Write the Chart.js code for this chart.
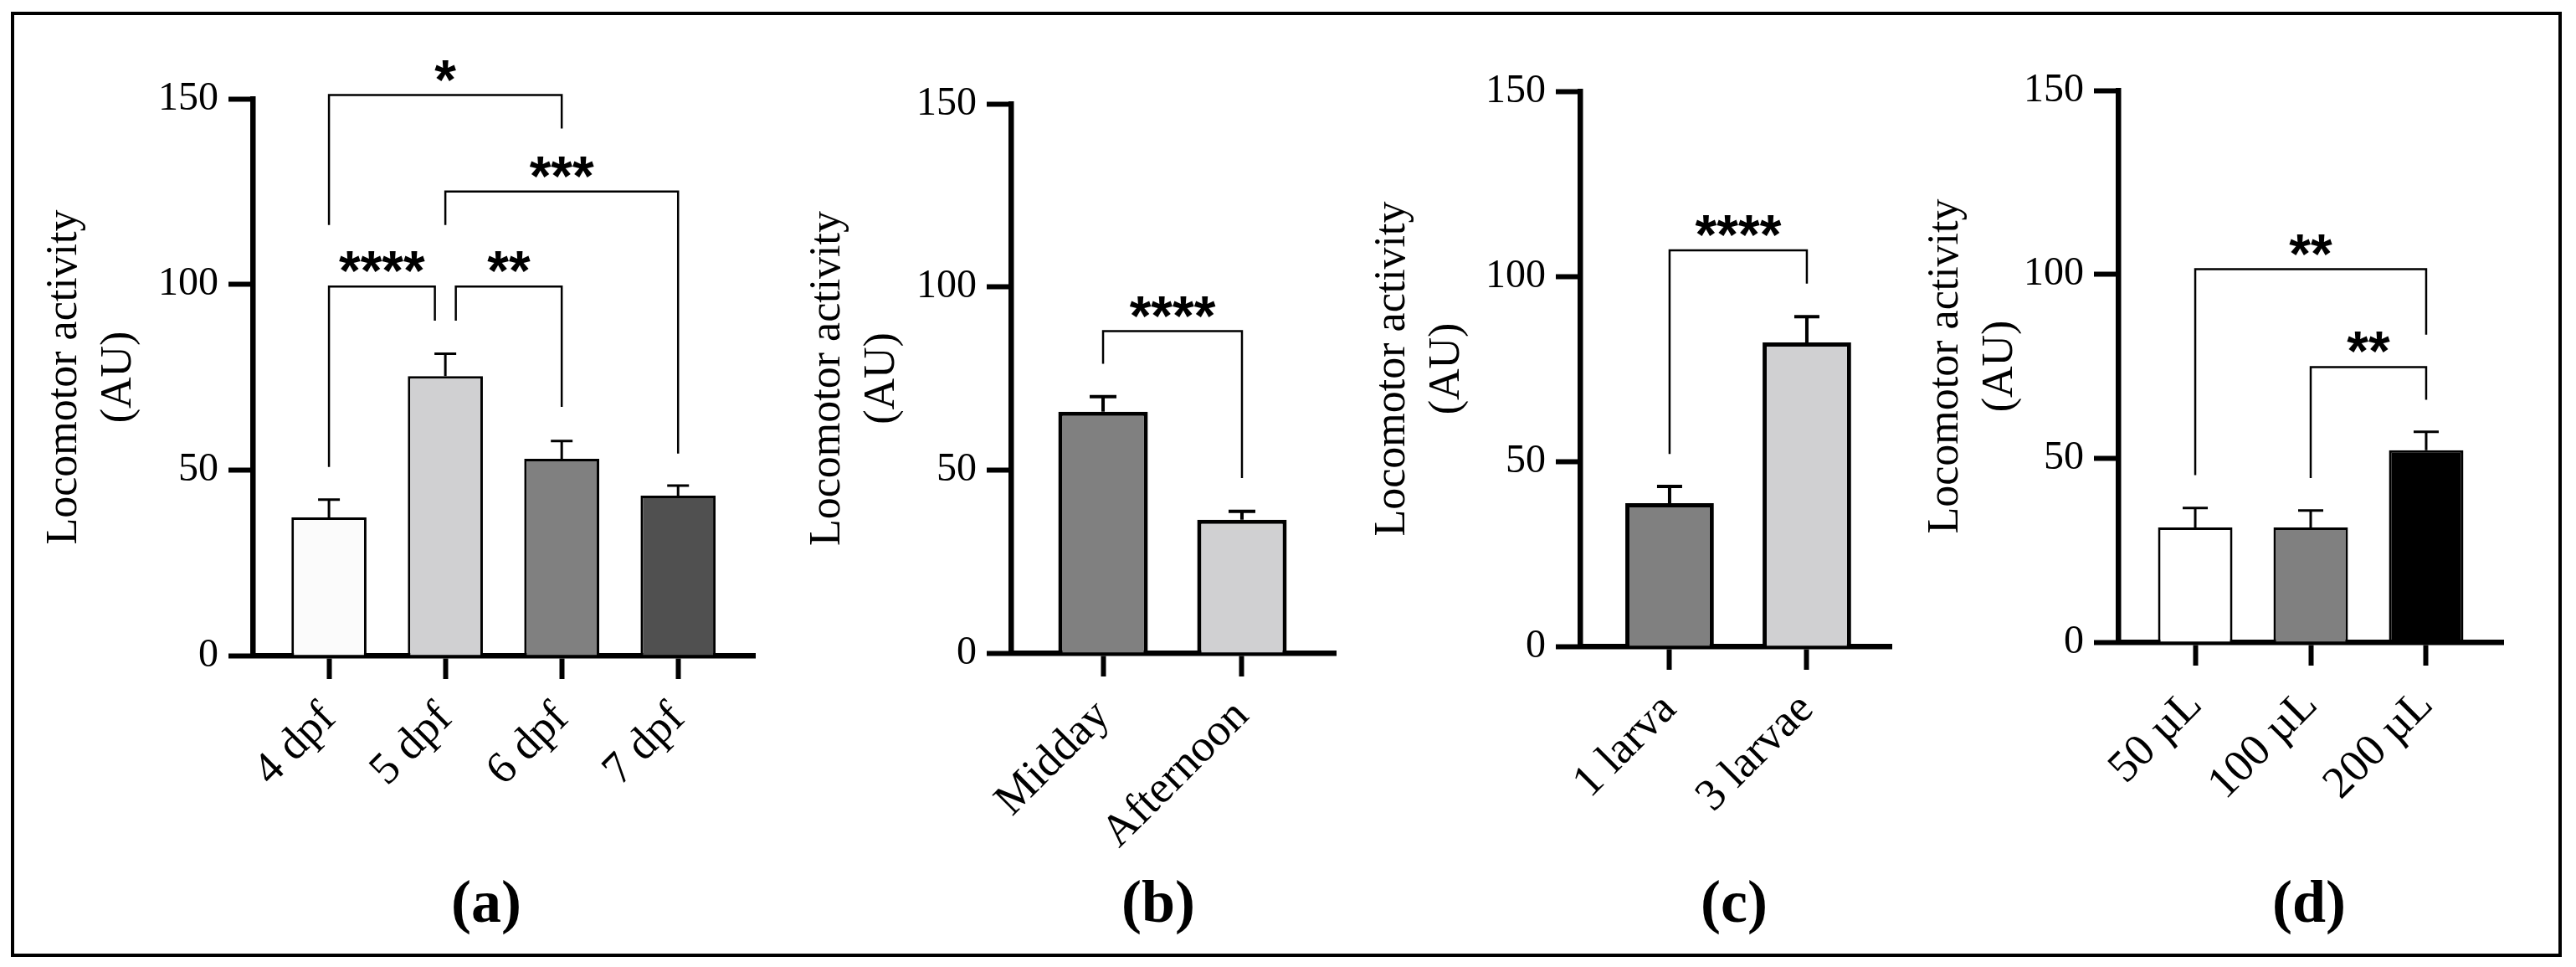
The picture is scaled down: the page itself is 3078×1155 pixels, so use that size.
<!DOCTYPE html>
<html>
<head>
<meta charset="utf-8">
<script src="https://cdn.jsdelivr.net/npm/chart.js@4.4.0/dist/chart.umd.min.js"></script>
<style>
    html, body { margin: 0; padding: 0; background: #fff; }
    body { width: 3078px; height: 1155px; position: relative; overflow: hidden; }
    #frame { position: absolute; left: 13px; top: 14px; width: 3048px; height: 1129px;
             border: 4px solid #000; box-sizing: border-box; }
    canvas { position: absolute; top: 20px; }
    .tag { position: absolute; top: 1036px; height: 80px; line-height: 80px;
           font: bold 72px "Liberation Serif", serif; transform: translateX(-50%); }
</style>
</head>
<body>
<div id="frame"></div>
<canvas id="chartA"></canvas>
<canvas id="chartB"></canvas>
<canvas id="chartC"></canvas>
<canvas id="chartD"></canvas>
<div class="tag" style="left:581px">(a)</div>
<div class="tag" style="left:1384px">(b)</div>
<div class="tag" style="left:2072px">(c)</div>
<div class="tag" style="left:2759px">(d)</div>

<script>
//////////////////////////////////////
//              Data                //
//////////////////////////////////////

const yTitle = ['Locomotor activity', '(AU)'];
const yMax = 150;
const yStep = 50;

// (a) age of larvae
const ageLabels = ['4 dpf', '5 dpf', '6 dpf', '7 dpf'];
const ageMeans = [37.2, 75.3, 53.0, 43.1];
const ageErrors = [4.8, 6.0, 4.8, 2.7];
const ageColors = ['#fbfbfb', '#d0d0d2', '#808080', '#505050'];
const ageBrackets = [
    { x1: 0, x2: 2, y: 151, y1: 116, y2: 142, text: '*' },
    { x1: 1, x2: 3, y: 125, y1: 116, y2: 54.4, text: '***' },
    { x1: 0, x2: 0.91, y: 99.4, y1: 50.8, y2: 90.2, text: '****' },
    { x1: 1.09, x2: 2, y: 99.4, y1: 90.2, y2: 67, text: '**' }
];

// (b) time of day
const timeLabels = ['Midday', 'Afternoon'];
const timeMeans = [65.9, 36.4];
const timeErrors = [4.1, 2.3];
const timeColors = ['#808080', '#d0d0d2'];
const timeBrackets = [
    { x1: 0, x2: 1, y: 87.9, y1: 79, y2: 47.8, text: '****' }
];

// (c) larvae per well
const groupLabels = ['1 larva', '3 larvae'];
const groupMeans = [38.7, 82.1];
const groupErrors = [4.5, 7.0];
const groupColors = ['#808080', '#d0d0d2'];
const groupBrackets = [
    { x1: 0, x2: 1, y: 107, y1: 52, y2: 98, text: '****' }
];

// (d) water volume
const volumeLabels = ['50 µL', '100 µL', '200 µL'];
const volumeMeans = [31.2, 31.2, 52.2];
const volumeErrors = [5.3, 4.6, 5.0];
const volumeColors = ['#ffffff', '#808080', '#000000'];
const volumeBrackets = [
    { x1: 0, x2: 2, y: 101.4, y1: 45.4, y2: 83.6, text: '**' },
    { x1: 1, x2: 2, y: 74.8, y1: 44.6, y2: 65.9, text: '**' }
];


//////////////////////////////////////
//             Plugins              //
//////////////////////////////////////

// one sided error bars (mean + SEM) on top of every bar
const errorBarPlugin = {
    id: 'errBars',
    afterDatasetsDraw(chart, args, opts) {
        const ctx = chart.ctx;
        const xs = chart.scales.x, ys = chart.scales.y;
        ctx.save();
        ctx.strokeStyle = '#000';
        ctx.lineWidth = opts.lineWidth;
        opts.means.forEach((m, i) => {
            const px = xs.getPixelForValue(i);
            const top = ys.getPixelForValue(m);
            const end = ys.getPixelForValue(m + opts.errors[i]);
            ctx.beginPath();
            ctx.moveTo(px, top);
            ctx.lineTo(px, end);
            ctx.moveTo(px - opts.cap, end);
            ctx.lineTo(px + opts.cap, end);
            ctx.stroke();
        });
        ctx.restore();
    }
};

// significance brackets with stars
const bracketPlugin = {
    id: 'brackets',
    afterDatasetsDraw(chart, args, opts) {
        const ctx = chart.ctx;
        const xs = chart.scales.x, ys = chart.scales.y;
        ctx.save();
        ctx.strokeStyle = '#000';
        ctx.fillStyle = '#000';
        ctx.lineWidth = 2.5;
        ctx.font = 'bold 66px "Liberation Sans", Arial, sans-serif';
        ctx.textAlign = 'center';
        ctx.textBaseline = 'alphabetic';
        opts.items.forEach(b => {
            const xa = xs.getPixelForValue(b.x1), xb = xs.getPixelForValue(b.x2);
            const yt = ys.getPixelForValue(b.y);
            ctx.beginPath();
            ctx.moveTo(xa, ys.getPixelForValue(b.y1));
            ctx.lineTo(xa, yt);
            ctx.lineTo(xb, yt);
            ctx.lineTo(xb, ys.getPixelForValue(b.y2));
            ctx.stroke();
            ctx.fillText(b.text, (xa + xb) / 2, yt + 4);
        });
        ctx.restore();
    }
};


//////////////////////////////////////
//              Panels              //
//////////////////////////////////////

function makePanel(p) {
    const canvas = document.getElementById(p.id);
    canvas.width = p.canvasRight - p.canvasLeft;
    canvas.height = 1110;
    canvas.style.left = p.canvasLeft + 'px';

    const titleLine = 65;
    const xAxisHeight = 1110 - (p.area.bottom - 20);

    return new Chart(canvas, {
        type: 'bar',
        data: {
            datasets: [{
                data: p.means.map((v, i) => ({ x: i, y: v })),
                backgroundColor: p.colors,
                borderColor: '#000',
                borderWidth: p.barBorder,
                categoryPercentage: 1,
                barPercentage: 0.645
            }]
        },
        options: {
            responsive: false,
            animation: false,
            devicePixelRatio: 1,
            layout: {
                padding: { left: 0, top: p.area.top - 20, bottom: 0, right: p.canvasRight - p.area.right }
            },
            plugins: {
                legend: { display: false },
                tooltip: { enabled: false },
                errBars: { means: p.means, errors: p.errors, lineWidth: p.errWidth, cap: p.cap },
                brackets: { items: p.brackets }
            },
            scales: {
                x: {
                    type: 'linear',
                    offset: false,
                    min: -p.xPad[0],
                    max: p.labels.length - 1 + p.xPad[1],
                    afterBuildTicks: s => { s.ticks = p.labels.map((_, i) => ({ value: i })); },
                    afterFit: s => { s.height = xAxisHeight; },
                    grid: { display: true, offset: false, drawOnChartArea: false, drawTicks: true,
                            tickLength: 28, tickWidth: 6, tickColor: '#000' },
                    border: { display: true, color: '#000', width: 6.5 },
                    ticks: {
                        autoSkip: false,
                        maxRotation: 45,
                        minRotation: 45,
                        padding: 16,
                        color: '#000',
                        font: { family: '"Liberation Serif", serif', size: 54 },
                        callback: v => p.labels[v]
                    }
                },
                y: {
                    min: 0,
                    max: yMax,
                    afterFit: s => { s.width = p.area.left - p.canvasLeft; },
                    grid: { display: true, drawOnChartArea: false, drawTicks: true,
                            tickLength: 29, tickWidth: 6, tickColor: '#000' },
                    border: { display: true, color: '#000', width: 6.5 },
                    ticks: {
                        stepSize: yStep,
                        padding: 12,
                        color: '#000',
                        font: { family: '"Liberation Serif", serif', size: 48 }
                    },
                    title: {
                        display: true,
                        text: yTitle,
                        color: '#000',
                        font: { family: '"Liberation Serif", serif', size: 52, lineHeight: 1.25 },
                        padding: { top: p.titleX - p.canvasLeft - titleLine / 2, bottom: 0 }
                    }
                }
            }
        },
        plugins: [errorBarPlugin, bracketPlugin]
    });
}

makePanel({
    id: 'chartA', canvasLeft: 20, canvasRight: 940,
    area: { left: 302, top: 118, bottom: 783, right: 902 }, xPad: [0.655, 0.66],
    titleX: 77, labels: ageLabels, means: ageMeans, errors: ageErrors, colors: ageColors,
    brackets: ageBrackets, barBorder: 3, errWidth: 3, cap: 13
});

makePanel({
    id: 'chartB', canvasLeft: 940, canvasRight: 1620,
    area: { left: 1208, top: 124, bottom: 780, right: 1596 }, xPad: [0.663, 0.675],
    titleX: 989, labels: timeLabels, means: timeMeans, errors: timeErrors, colors: timeColors,
    brackets: timeBrackets, barBorder: 5, errWidth: 4, cap: 16
});

makePanel({
    id: 'chartC', canvasLeft: 1620, canvasRight: 2290,
    area: { left: 1888, top: 109, bottom: 772, right: 2260 }, xPad: [0.652, 0.616],
    titleX: 1664, labels: groupLabels, means: groupMeans, errors: groupErrors, colors: groupColors,
    brackets: groupBrackets, barBorder: 5, errWidth: 4, cap: 15
});

makePanel({
    id: 'chartD', canvasLeft: 2290, canvasRight: 3050,
    area: { left: 2531, top: 108, bottom: 767, right: 2991 }, xPad: [0.667, 0.667],
    titleX: 2325, labels: volumeLabels, means: volumeMeans, errors: volumeErrors, colors: volumeColors,
    brackets: volumeBrackets, barBorder: 3, errWidth: 3, cap: 15
});
</script>
</body>
</html>
